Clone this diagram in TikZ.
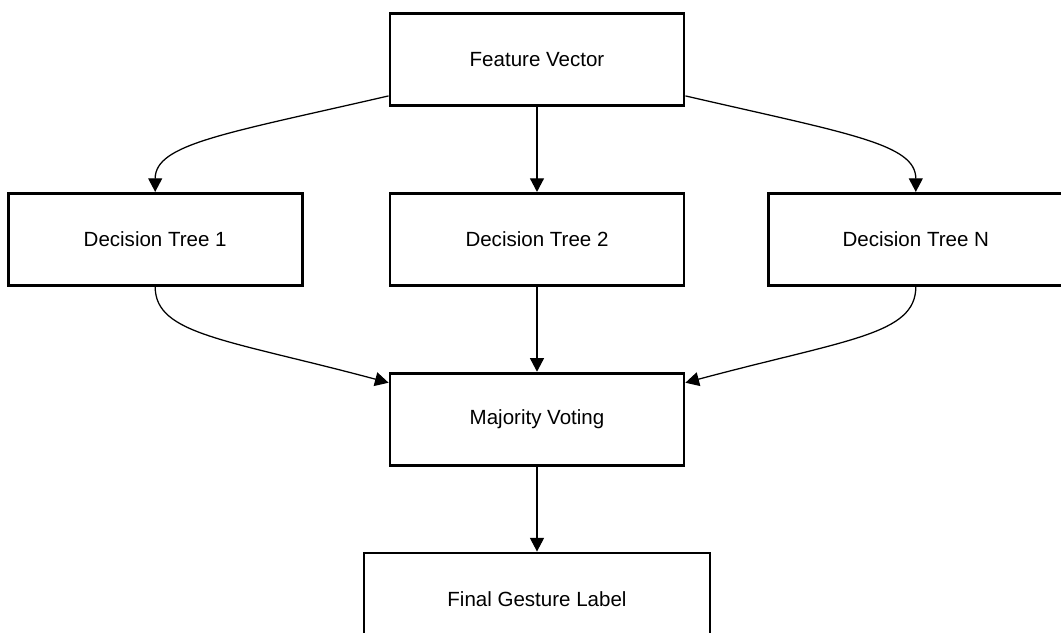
\documentclass[tikz,border=0pt]{standalone}
\usepackage{fontspec}
\setmainfont{Liberation Sans}
\usetikzlibrary{arrows.meta,positioning,calc}

\begin{document}
\begin{tikzpicture}[
    every node/.style={font=\fontsize{14.6}{17}\selectfont},
    tbox/.style={draw,line width=2pt,minimum width=7.35cm,minimum height=2.3cm,align=center},
    arr/.style={-{Triangle[length=3.4mm,width=3.5mm]},line width=0.9pt}
]
\useasboundingbox (-13.425,1.4875) rectangle (13.1,-14.3375);
% Row 1: input
\node[tbox] (fv) {Feature Vector};
% Row 2: the trees
\node[tbox,below=2.125cm of fv] (dt2) {Decision Tree 2};
\node[tbox,left=2.125cm of dt2] (dt1) {Decision Tree 1};
\node[tbox,right=2.05cm of dt2] (dtn) {Decision Tree N};
% Row 3 and 4: voting and output
\node[tbox,below=2.125cm of dt2] (mv) {Majority Voting};
\node[tbox,minimum width=8.65cm,below=2.125cm of mv] (fgl) {Final Gesture Label};

% side ends of the curved links
\coordinate (fvL) at ($(fv.south west)+(0,0.275)$);
\coordinate (fvR) at ($(fv.south east)+(0,0.275)$);
\coordinate (mvL) at ($(mv.north west)+(0,-0.275)$);
\coordinate (mvR) at ($(mv.north east)+(0,-0.275)$);

\draw[arr] (fvL) .. controls +(193:4.2) and +(90:1.2) .. (dt1.north);
\draw[arr] (fv) -- (dt2);
\draw[arr] (fvR) .. controls +(-13:4.2) and +(90:1.2) .. (dtn.north);

\draw[arr] (dt1.south) .. controls +(-90:1.2) and +(165:4.2) .. (mvL);
\draw[arr] (dt2) -- (mv);
\draw[arr] (dtn.south) .. controls +(-90:1.2) and +(15:4.2) .. (mvR);

\draw[arr] (mv) -- (fgl);
\end{tikzpicture}
\end{document}
